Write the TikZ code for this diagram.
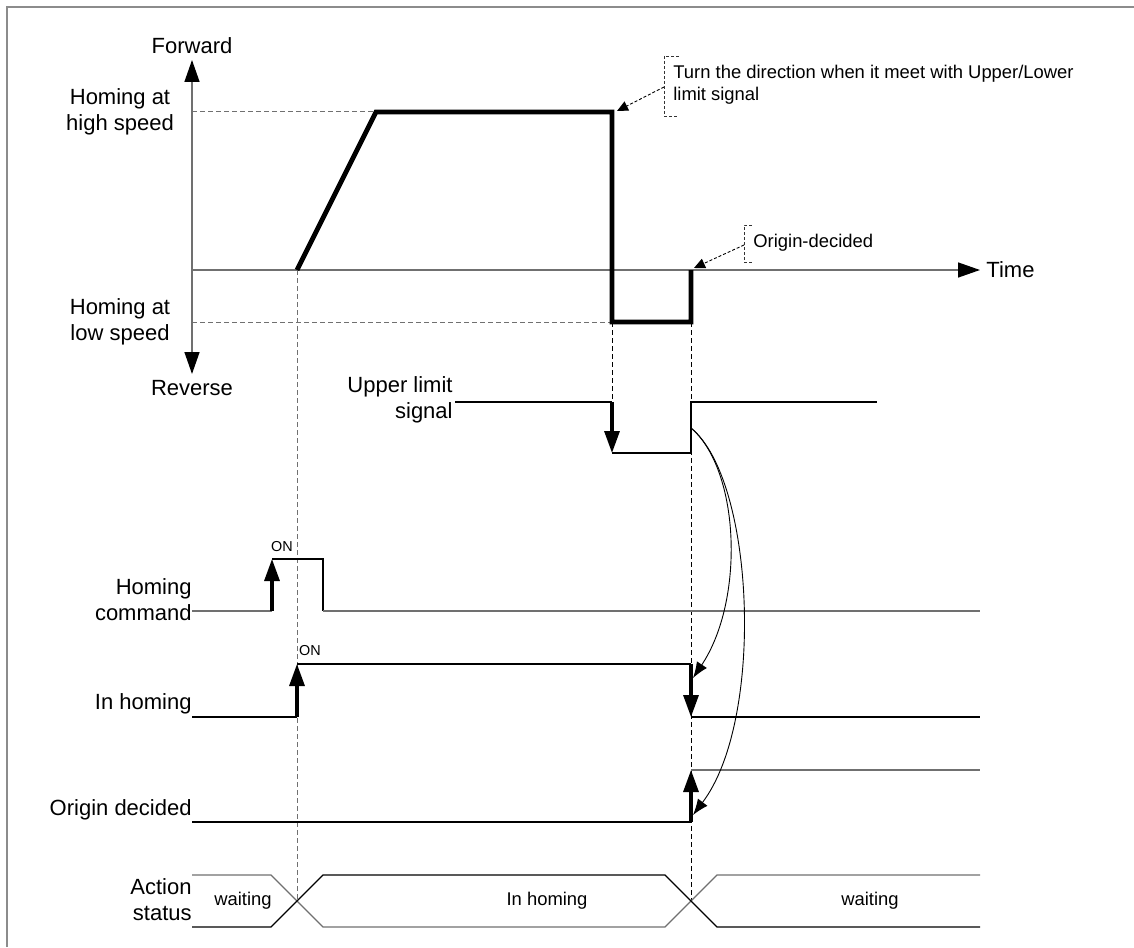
\documentclass[tikz,border=0pt]{standalone}
\usepackage{fontspec}
\setmainfont{Liberation Sans}
\usetikzlibrary{arrows.meta}
\definecolor{axisgray}{RGB}{112,112,112}
\definecolor{framegray}{RGB}{140,140,140}
\tikzset{
  axistip/.tip={Triangle[length=11pt,width=7.5pt,color=black]},
  axis/.style={axisgray,line width=0.7pt},
  speed/.style={black,line width=2.4pt,line join=miter},
  level/.style={black,line width=0.55pt},
  levelgray/.style={axisgray,line width=0.65pt},
  edge/.style={-{Triangle[length=11pt,width=7.5pt]},line width=1.6pt},
  guide/.style={black,line width=0.5pt,dash pattern=on 2.5pt off 1.5pt},
  bracket/.style={black!80,line width=0.45pt,dash pattern=on 1.5pt off 1pt},
  leader/.style={-{Triangle[length=5.5pt,width=5pt]},line width=0.45pt,dash pattern=on 1.5pt off 1pt},
  cue/.style={-{Latex[length=8pt,width=6pt]},line width=0.45pt},
  lab/.style={font=\fontsize{11}{13}\selectfont,inner sep=0pt},
  note/.style={font=\fontsize{9.2}{11}\selectfont,inner sep=0pt,align=left},
  tag/.style={font=\fontsize{7.2}{8}\selectfont,inner sep=0pt},
}

\begin{document}
\begin{tikzpicture}[x=0.5pt,y=-0.5pt]
  \path[use as bounding box] (0,0) rectangle (1134,947);
  \draw[framegray,line width=1pt] (7,947) -- (7,7) -- (1134,7);

  % speed profile
  \coordinate (vtop) at (192,60);
  \coordinate (vbot) at (192,374);
  \coordinate (t0) at (192,270);
  \node[lab] (fwd) at (192,46) {Forward};
  \node[lab] (rev) at (192,388) {Reverse};
  \node[lab,anchor=west] (time) at (986,270) {Time};
  \node[lab,align=center] (hi) at (120,112) {Homing at\\high speed};
  \node[lab,align=center] (lo) at (120,322) {Homing at\\low speed};
  \draw[axis,axistip-axistip] (vtop) -- (vbot);
  \draw[axis,-axistip,shorten >=3pt] (t0) -- (time.west);

  \coordinate (vstart) at (297,270);
  \coordinate (vcrest) at (376,112);
  \coordinate (vturn) at (612,112);
  \coordinate (vlow) at (612,322);
  \coordinate (vlowend) at (691,322);
  \coordinate (vorigin) at (691,270);
  \coordinate (x1) at (297,901);
  \coordinate (x2) at (691,901);
  \coordinate (u1) at (612,402);
  \draw[guide,axisgray] (192,112) -- (vcrest);
  \draw[guide,axisgray] (192,322) -- (vlow);

  % timing guides
  \draw[guide,axisgray] (vstart) -- (x1);
  \draw[guide] (vlow) -- (u1);
  \draw[guide] (vlowend) -- (x2);

  \draw[speed] (vstart) -- (vcrest) -- (vturn) -- (vlow) -- (vlowend) -- (vorigin);

  \node[note,anchor=west] (turnnote) at (673,85)
    {Turn the direction when it meet with Upper/Lower\\limit signal};
  \draw[bracket] (679,56) -- (664,56) -- (664,116) -- (679,116);
  \coordinate (turnfoot) at (664,87);
  \draw[leader] (turnfoot) -- (617,111);

  \node[note,anchor=west] (originnote) at (753,243) {Origin-decided};
  \draw[bracket] (752,225) -- (744,225) -- (744,262) -- (752,262);
  \coordinate (originfoot) at (744,245);
  \draw[leader] (originfoot) -- (694,268);

  % upper limit signal
  \node[lab,align=right,anchor=east] (ulim) at (453,400) {Upper limit\\signal};
  \coordinate (u0) at (455,402);
  \coordinate (u2) at (612,453);
  \coordinate (u3) at (691,453);
  \coordinate (u4) at (691,402);
  \coordinate (u5) at (877,402);
  \draw[level] (u0) -- (u1);
  \draw[edge] (u1) -- (u2);
  \draw[level] (u2) -- (u3) -- (u4) -- (u5);

  % homing command
  \node[lab,align=right,anchor=east] (hcmd) at (192,600) {Homing\\command};
  \coordinate (c0) at (192,611);
  \coordinate (c1) at (272,611);
  \coordinate (c2) at (272,559);
  \coordinate (c3) at (323,559);
  \coordinate (c4) at (323,611);
  \coordinate (c5) at (980,611);
  \draw[levelgray] (c0) -- (c1);
  \draw[edge] (c1) -- (c2);
  \draw[level] (c2) -- (c3) -- (c4);
  \draw[levelgray] (c4) -- (c5);
  \node[tag] (on1) at (282,547) {ON};

  % in homing
  \node[lab,anchor=east] (inhome) at (192,704) {In homing};
  \coordinate (h0) at (192,717);
  \coordinate (h1) at (297,717);
  \coordinate (h2) at (297,664);
  \coordinate (h3) at (691,664);
  \coordinate (h4) at (691,717);
  \coordinate (h5) at (980,717);
  \draw[level] (h0) -- (h1);
  \draw[edge] (h1) -- (h2);
  \draw[level] (h2) -- (h3);
  \draw[edge] (h3) -- (h4);
  \draw[level] (h4) -- (h5);
  \node[tag] (on2) at (310,651) {ON};

  % origin decided
  \node[lab,anchor=east] (odec) at (192,810) {Origin decided};
  \coordinate (o0) at (192,822);
  \coordinate (o1) at (691,822);
  \coordinate (o2) at (691,770);
  \coordinate (o3) at (980,770);
  \draw[level] (o0) -- (o1);
  \draw[edge] (o1) -- (o2);
  \draw[levelgray] (o2) -- (o3);

  % action status
  \node[lab,align=right,anchor=east] (status) at (192,900) {Action\\status};
  \draw[levelgray] (192,875) -- (271,875) -- (x1) -- (323,927) -- (665,927) -- (x2) -- (717,875) -- (980,875);
  \draw[level] (192,927) -- (271,927) -- (x1) -- (323,875) -- (665,875) -- (x2) -- (717,927) -- (980,927);
  \node[note] (wait1) at (243,901) {waiting};
  \node[note] (homing) at (547,901) {In homing};
  \node[note] (wait2) at (870,901) {waiting};

  % limit release drives both flags
  \coordinate (ucue) at (691,428);
  \coordinate (hcue) at (693,678);
  \coordinate (ocue) at (693,815);
  \draw[cue] (ucue) .. controls (740,470) and (745,600) .. (hcue);
  \draw[cue] (ucue) .. controls (755,480) and (765,720) .. (ocue);
\end{tikzpicture}
\end{document}
